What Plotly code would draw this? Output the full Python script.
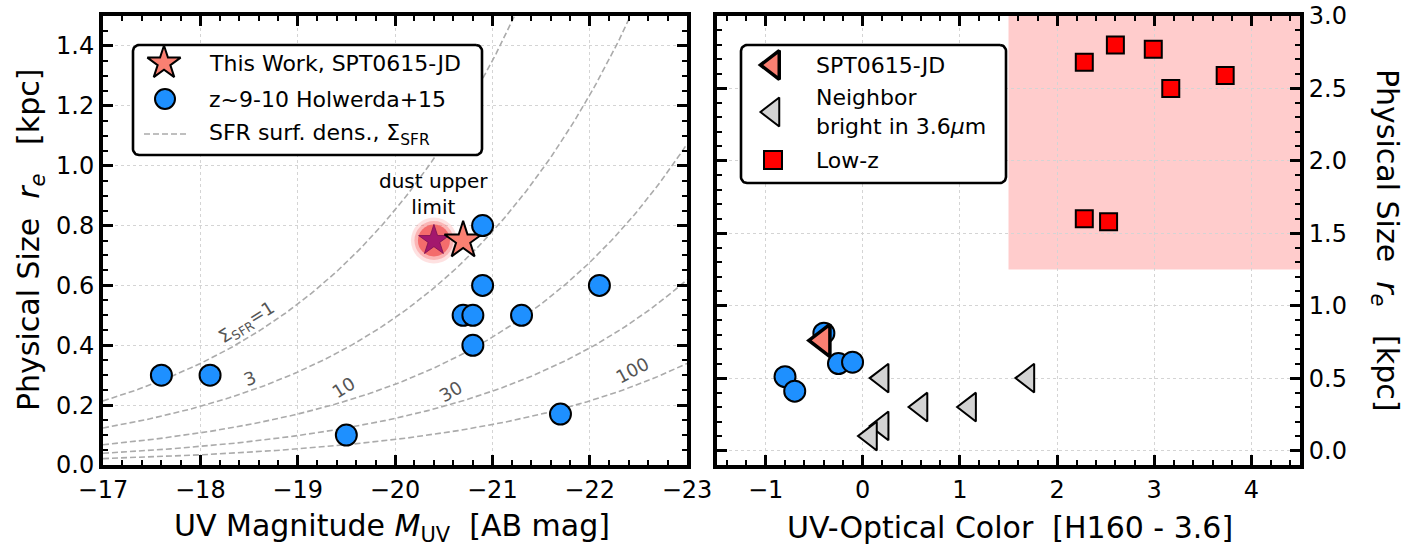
import numpy as np
import plotly.graph_objects as go

# ---------------- data: left panel ----------------
muv_holwerda = [-17.6, -18.1, -19.5, -20.7, -20.8, -20.8, -20.9, -20.9, -21.3, -21.7, -22.1]
re_holwerda = [0.30, 0.30, 0.10, 0.50, 0.50, 0.40, 0.60, 0.80, 0.50, 0.17, 0.60]
muv_this = [-20.7]
re_this = [0.75]
muv_dust = [-20.4]
re_dust = [0.75]
sfr_levels = [1, 3, 10, 30, 100]
sfr_label_text = ["Σ<sub>SFR</sub>=1", "3", "10", "30", "100"]
sfr_label_muv = [-18.48, -18.5, -19.47, -20.57, -22.43]
sfr_label_re = [0.475, 0.29, 0.26, 0.247, 0.317]
sfr_label_angle = [-32, -22, -32, -30, -28]
r_norm = 0.214  # kpc at M_UV=-17 for Sigma_SFR = 1

# ---------------- data: right panel ----------------
col_holwerda = [-0.40, -0.25, -0.105, -0.80, -0.70]
re_holwerda_r = [0.81, 0.60, 0.61, 0.51, 0.41]
col_jd = [-0.41]
re_jd = [0.76]
col_neighbor = [0.2, 1.7, 0.6, 1.1, 0.2, 0.08]
re_neighbor = [0.5, 0.5, 0.3, 0.3, 0.17, 0.1]
col_lowz = [2.28, 2.60, 2.99, 3.17, 3.73, 2.28, 2.53]
re_lowz = [2.68, 2.80, 2.77, 2.50, 2.59, 1.60, 1.58]

FONT = "DejaVu Sans"
SALMON = "#fa8072"
BLUE = "#1e90ff"
W, H = 1419, 549
PL, PR, PT, PB = 103, 1300, 16, 465   # plot-area pixel bounds
LX1, RX0 = 687, 717


def px(x):
    return (x - PL) / (PR - PL)


def py(y):
    return (PB - y) / (PB - PT)


def rrect(x0, y0, x1, y1, r, n=10):
    xs, ys = [], []
    for cx, cy, a0 in [(x1 - r, y0 + r, -90), (x1 - r, y1 - r, 0), (x0 + r, y1 - r, 90), (x0 + r, y0 + r, 180)]:
        for t in np.linspace(np.radians(a0), np.radians(a0 + 90), n):
            xs.append(cx + r * np.cos(t))
            ys.append(cy + r * np.sin(t))
    xs.append(xs[0])
    ys.append(ys[0])
    return xs, ys


fig = go.Figure()

# SFR surface density curves
mgrid = np.linspace(-17, -23, 200)
for s in sfr_levels:
    fig.add_trace(go.Scatter(x=mgrid, y=r_norm * 10 ** (-0.2 * (mgrid + 17)) / np.sqrt(s),
                             mode="lines", line=dict(color="#ababab", width=1.6, dash="6px,3px"),
                             hoverinfo="skip", showlegend=False, xaxis="x", yaxis="y"))

# dust upper limit glow + star
for sz, c in [(46, "rgba(250,120,120,0.22)"), (39, "rgba(245,100,100,0.35)"), (32, "rgba(242,95,95,0.85)")]:
    fig.add_trace(go.Scatter(x=muv_dust, y=re_dust, mode="markers",
                             marker=dict(size=sz, color=c, line=dict(width=0)),
                             showlegend=False, xaxis="x", yaxis="y"))
fig.add_trace(go.Scatter(x=muv_dust, y=re_dust, mode="markers",
                         marker=dict(symbol="star", size=23, color="#a3186d", line=dict(width=0.8, color="#7a0f50")),
                         showlegend=False, xaxis="x", yaxis="y"))
fig.add_trace(go.Scatter(x=muv_this, y=re_this, mode="markers",
                         marker=dict(symbol="star", size=28, color=SALMON, line=dict(width=2, color="black")),
                         showlegend=False, xaxis="x", yaxis="y"))
fig.add_trace(go.Scatter(x=muv_holwerda, y=re_holwerda, mode="markers",
                         marker=dict(symbol="circle", size=21, color=BLUE, line=dict(width=2, color="black")),
                         showlegend=False, xaxis="x", yaxis="y"))

# right panel
fig.add_shape(type="rect", xref="x2", yref="y2", x0=1.5, x1=4.5, y0=1.25, y1=3.0,
              fillcolor="rgba(255,0,0,0.2)", line=dict(width=0), layer="below")
fig.add_trace(go.Scatter(x=col_holwerda, y=re_holwerda_r, mode="markers",
                         marker=dict(symbol="circle", size=21, color=BLUE, line=dict(width=2, color="black")),
                         showlegend=False, xaxis="x2", yaxis="y2"))
fig.add_trace(go.Scatter(x=col_neighbor, y=re_neighbor, mode="markers",
                         marker=dict(symbol="triangle-left", size=25, color="#d3d3d3", line=dict(width=2, color="black")),
                         showlegend=False, xaxis="x2", yaxis="y2"))
fig.add_trace(go.Scatter(x=col_jd, y=re_jd, mode="markers",
                         marker=dict(symbol="triangle-left", size=28, color=SALMON, line=dict(width=3.5, color="black")),
                         showlegend=False, xaxis="x2", yaxis="y2"))
fig.add_trace(go.Scatter(x=col_lowz, y=re_lowz, mode="markers",
                         marker=dict(symbol="square", size=17, color="#ff0000", line=dict(width=2, color="black")),
                         showlegend=False, xaxis="x2", yaxis="y2"))

# ---------------- custom legends (pixel overlay axes) ----------------
bx, by = rrect(133, 45, 482, 155, 6)
fig.add_trace(go.Scatter(x=bx, y=by, mode="lines", fill="toself", fillcolor="white",
                         line=dict(color="black", width=2.6), hoverinfo="skip", showlegend=False,
                         xaxis="x3", yaxis="y3"))
fig.add_trace(go.Scatter(x=[164], y=[63], mode="markers",
                         marker=dict(symbol="star", size=25, color=SALMON, line=dict(width=2, color="black")),
                         showlegend=False, xaxis="x3", yaxis="y3"))
fig.add_trace(go.Scatter(x=[165], y=[99], mode="markers",
                         marker=dict(symbol="circle", size=20, color=BLUE, line=dict(width=2, color="black")),
                         showlegend=False, xaxis="x3", yaxis="y3"))
fig.add_trace(go.Scatter(x=[144, 188], y=[134, 134], mode="lines",
                         line=dict(color="#ababab", width=1.6, dash="6px,3px"),
                         showlegend=False, xaxis="x3", yaxis="y3"))

bx, by = rrect(741, 45, 1006, 183, 6)
fig.add_trace(go.Scatter(x=bx, y=by, mode="lines", fill="toself", fillcolor="white",
                         line=dict(color="black", width=2.6), hoverinfo="skip", showlegend=False,
                         xaxis="x4", yaxis="y4"))
fig.add_trace(go.Scatter(x=[773], y=[65], mode="markers",
                         marker=dict(symbol="triangle-left", size=25, color=SALMON, line=dict(width=3.5, color="black")),
                         showlegend=False, xaxis="x4", yaxis="y4"))
fig.add_trace(go.Scatter(x=[773], y=[112], mode="markers",
                         marker=dict(symbol="triangle-left", size=25, color="#d3d3d3", line=dict(width=2, color="black")),
                         showlegend=False, xaxis="x4", yaxis="y4"))
fig.add_trace(go.Scatter(x=[773], y=[160], mode="markers",
                         marker=dict(symbol="square", size=18, color="#ff0000", line=dict(width=2, color="black")),
                         showlegend=False, xaxis="x4", yaxis="y4"))

annots = []
leg_font = dict(family=FONT, size=22, color="black")
for txt, x, y, xr, yr in [
    ("This Work, SPT0615-JD", 207, 63, "x3", "y3"),
    ("z~9-10 Holwerda+15", 207, 99, "x3", "y3"),
    ("SFR surf. dens., Σ<sub>SFR</sub>", 207, 134, "x3", "y3"),
    ("SPT0615-JD", 814, 65, "x4", "y4"),
    ("Neighbor<br>bright in 3.6<i>μ</i>m", 814, 112, "x4", "y4"),
    ("Low-z", 814, 160, "x4", "y4"),
]:
    annots.append(dict(text=txt, x=x, y=y, xref=xr, yref=yr, xanchor="left", yanchor="middle",
                       showarrow=False, font=leg_font, align="left"))

# SFR curve labels
for t, xm, yr_, ang in zip(sfr_label_text, sfr_label_muv, sfr_label_re, sfr_label_angle):
    annots.append(dict(text=t, x=xm, y=yr_, xref="x", yref="y", showarrow=False, textangle=ang,
                       xanchor="center", yanchor="middle",
                       font=dict(family=FONT, size=18, color="#555555")))

annots.append(dict(text="dust upper<br>limit", x=-20.4, y=0.905, xref="x", yref="y", showarrow=False,
                   xanchor="center", yanchor="middle",
                   font=dict(family=FONT, size=20, color="black"), align="center"))

title_font = dict(family=FONT, size=30, color="black")
nb = "\u00a0"
ytitle = f"Physical Size{nb}{nb}<i>r</i><sub><i>e</i></sub>{nb}{nb}{nb}[kpc]"
annots.append(dict(text=ytitle, x=px(30), y=py(240), xref="paper", yref="paper", textangle=-90,
                   xanchor="center", yanchor="middle", showarrow=False, font=title_font))
annots.append(dict(text=ytitle, x=px(1386), y=py(240), xref="paper", yref="paper", textangle=90,
                   xanchor="center", yanchor="middle", showarrow=False, font=title_font))
annots.append(dict(text=f"UV Magnitude <i>M</i><sub>UV</sub>{nb}{nb}[AB mag]", x=px(392), y=py(527),
                   xref="paper", yref="paper", xanchor="center", yanchor="middle",
                   showarrow=False, font=title_font))
annots.append(dict(text=f"UV-Optical Color{nb}{nb}[H160 - 3.6]", x=px(1010), y=py(527),
                   xref="paper", yref="paper", xanchor="center", yanchor="middle",
                   showarrow=False, font=title_font))

ax = dict(showline=True, linecolor="black", linewidth=4, mirror="allticks", ticks="inside",
          ticklen=10, tickwidth=3, tickcolor="black", showgrid=True, gridcolor="#d4d4d4",
          griddash="dot", gridwidth=1, zeroline=False, automargin=False,
          tickfont=dict(family=FONT, size=24, color="black"), fixedrange=True)

d_left = [0, px(LX1)]
d_right = [px(RX0), 1]
hid = dict(visible=False, fixedrange=True, automargin=False, showgrid=False, zeroline=False)

fig.update_layout(
    template="none",
    width=W, height=H,
    margin=dict(l=PL, r=W - PR, t=PT, b=H - PB, autoexpand=False),
    paper_bgcolor="white", plot_bgcolor="white",
    showlegend=False,
    xaxis=dict(ax, domain=d_left, range=[-17, -23], dtick=1, tick0=-17, anchor="y",
               minor=dict(ticks="inside", ticklen=5, tickwidth=2, tickcolor="black", dtick=0.2, showgrid=False)),
    yaxis=dict(ax, domain=[0, 1], range=[0, 1.5], dtick=0.2, tick0=0, tickformat=".1f", anchor="x",
               minor=dict(ticks="inside", ticklen=5, tickwidth=2, tickcolor="black", dtick=0.05, showgrid=False)),
    xaxis2=dict(ax, domain=d_right, range=[-1.5, 4.5], dtick=1, tick0=0, anchor="y2",
                minor=dict(ticks="inside", ticklen=5, tickwidth=2, tickcolor="black", dtick=0.2, showgrid=False)),
    yaxis2=dict(ax, domain=[0, 1], range=[-0.1, 3.0], dtick=0.5, tick0=0, tickformat=".1f", anchor="x2",
                side="right",
                minor=dict(ticks="inside", ticklen=5, tickwidth=2, tickcolor="black", dtick=0.1, showgrid=False)),
    xaxis3=dict(hid, overlaying="x", range=[PL, LX1]),
    yaxis3=dict(hid, overlaying="y", range=[PB, PT]),
    xaxis4=dict(hid, overlaying="x2", range=[RX0, PR]),
    yaxis4=dict(hid, overlaying="y2", range=[PB, PT]),
    annotations=annots,
)

fig.write_html("out.html", config={"displayModeBar": False, "responsive": False},
               post_script="document.body.style.margin='0';document.body.style.overflow='hidden';")
